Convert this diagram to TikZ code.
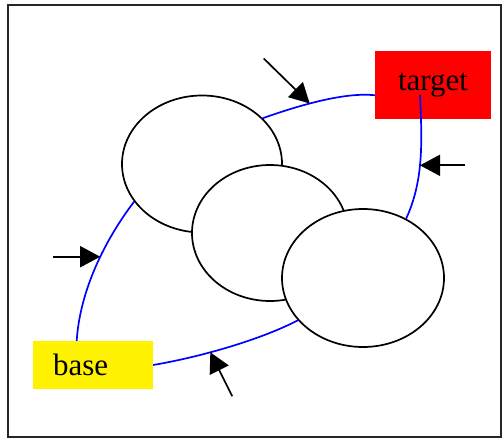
\documentclass[tikz,border=0pt]{standalone}
\usepackage{fontspec}
\setmainfont{Liberation Serif}
\usetikzlibrary{arrows.meta, calc, shapes.geometric}

\begin{document}
\begin{tikzpicture}[
    x=1pt, y=-1pt,
    >={Triangle[length=20pt, width=21pt]},
    font=\fontsize{31}{36}\selectfont,
    ring/.style={ellipse, draw, fill=white, line width=1.7pt, inner sep=0pt},
    tag/.style={rectangle, inner sep=0pt},
    link/.style={draw=blue, line width=1.7pt},
    pointer/.style={->, line width=1.7pt}
]
\useasboundingbox (0,0) rectangle (502,438);
\draw[black!85, line width=1.3pt] (8,5) rectangle (501,437);
\node[ring, minimum width=160pt, minimum height=137pt] (e1) at (202,164) {};
\node[ring, minimum width=156pt, minimum height=136pt] (e2) at (270,233) {};
\node[ring, minimum width=162pt, minimum height=138pt] (e3) at (363,278) {};
\node[tag, fill=red, minimum width=116pt, minimum height=68pt] (target) at (433,85) {target};
\node[tag, fill=yellow, minimum height=48pt, text width=80pt, inner xsep=20pt, align=left] (base) at (93,365) {\raisebox{-2pt}{base}};
\coordinate (tin) at ($(target.center)+(-13,10)$);
\path[link] (e1.37) .. controls (300,105) and (345,92) .. (target.190) coordinate[pos=0.4] (hit1);
\path[link] (tin) .. controls (422,140) and (424,180) .. (e3.54) coordinate[pos=0.55] (hit2);
\path[link] (e1.209) .. controls (105,240) and (80,290) .. (base.124) coordinate[pos=0.43] (hit3);
\path[link] (e3.213) .. controls (260,340) and (200,357) .. (base.east) coordinate[pos=0.62] (hit4);
\coordinate (tail1) at ($(hit1)+(-46,-45)$);
\coordinate (tail2) at ($(hit2)+(45,0)$);
\coordinate (tail3) at ($(hit3)+(-47,0)$);
\coordinate (tail4) at ($(hit4)+(22,44)$);
\draw[pointer] (tail1) -- (hit1);
\draw[pointer] (tail2) -- (hit2);
\draw[pointer] (tail3) -- (hit3);
\draw[pointer] (tail4) -- (hit4);
\end{tikzpicture}
\end{document}
